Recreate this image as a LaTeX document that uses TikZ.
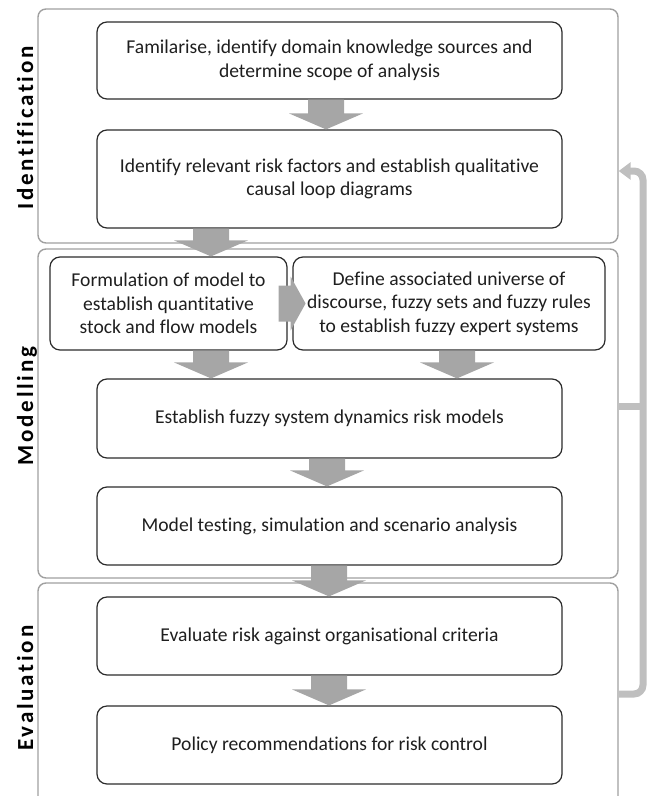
\documentclass[tikz,border=0pt]{standalone}
\usepackage{fontspec}
\setmainfont{Carlito}[Ligatures=NoCommon]
\newfontfamily\phasefont[LetterSpace=12,Ligatures=NoCommon]{Carlito}
\usetikzlibrary{calc,arrows.meta}
\definecolor{boxline}{HTML}{2B2B2B}
\definecolor{panelline}{HTML}{A0A0A0}
\definecolor{blockfill}{HTML}{A6A6A6}
\definecolor{fbline}{HTML}{BFBFBF}
\definecolor{txt}{HTML}{1E1E1E}

% downward block arrow: #1 = x of its axis, #2 = upper node, #3 = lower node
\newcommand\downblock[3]{%
  \fill[block] let \p1=(#2.south), \p2=(#3.north), \p3=(#1,0) in
    (\x3-18pt,\y1) -- (\x3+18pt,\y1) -- (\x3+18pt,\y2+16pt) -- (\x3+37pt,\y2+16pt)
    -- (\x3,\y2) -- (\x3-37pt,\y2+16pt) -- (\x3-18pt,\y2+16pt) -- cycle;}

\begin{document}
\begin{tikzpicture}[x=1pt,y=-1pt,
  panel/.style={draw=panelline, line width=1.4pt, rounded corners=8pt, inner sep=0pt, minimum width=580pt},
  stepbox/.style={draw=boxline, line width=1.2pt, rounded corners=10pt, inner sep=0pt,
    align=center, text=txt, font=\fontsize{19.6}{23.5}\selectfont},
  phase/.style={rotate=90, anchor=base, inner sep=0pt, text=black,
    font=\phasefont\bfseries\fontsize{23}{27}\selectfont},
  block/.style={fill=blockfill, draw=none},
  feedback/.style={draw=fbline, line width=7pt, rounded corners=9pt}
]
\useasboundingbox (0,0) rectangle (654,796);
\clip (0,0) rectangle (654,796);

% phase panels
\node[panel, minimum height=234pt] (idp)   at (328,126)   {};
\node[panel, minimum height=329pt] (modp)  at (328,413.5) {};
\node[panel, minimum height=227pt] (evalp) at (328,696.5) {};

% feedback bracket on the right
\coordinate (fbtop) at (643,171);
\coordinate (fbmid) at (643,406);
\coordinate (fbbot) at (643,694);
\draw[feedback] (modp.east |- fbmid) -- (fbmid);
\draw[feedback, -{Triangle[length=12pt,width=17pt]}]
  (evalp.east |- fbbot) -- (fbbot) -- (fbtop) -- (idp.east |- fbtop);

% process steps
\node[stepbox, minimum width=465pt, minimum height=77pt] (b1) at (329.5,60.5)
  {Familarise, identify domain knowledge sources and\\determine scope of analysis};
\node[stepbox, minimum width=465pt, minimum height=98pt] (b2) at (329.5,179)
  {Identify relevant risk factors and establish qualitative\\causal loop diagrams};
\node[stepbox, minimum width=237pt, minimum height=93pt] (b3) at (168.5,303.5)
  {Formulation of model to\\establish quantitative\\stock and flow models};
\node[stepbox, minimum width=312pt, minimum height=93pt] (b4) at (449,303.5)
  {Define associated universe of\\discourse, fuzzy sets and fuzzy rules\\to establish fuzzy expert systems};
\node[stepbox, minimum width=465pt, minimum height=79pt] (b5) at (329.5,418.5)
  {Establish fuzzy system dynamics risk models};
\node[stepbox, minimum width=465pt, minimum height=78pt] (b6) at (329.5,526)
  {Model testing, simulation and scenario analysis};
\node[stepbox, minimum width=465pt, minimum height=78pt] (b7) at (329.5,636)
  {Evaluate risk against organisational criteria};
\node[stepbox, minimum width=465pt, minimum height=78pt] (b8) at (329.5,745)
  {Policy recommendations for risk control};

% block arrows between the steps
\downblock{326}{b1}{b2}
\downblock{211}{b2}{b3}
\downblock{211}{b3}{b5}
\downblock{457}{b4}{b5}
\downblock{327}{b5}{b6}
\downblock{329}{b6}{b7}
\downblock{329}{b7}{b8}
\fill[block] let \p1=(b3.east) in
  (\x1-9pt,\y1+18pt) -- (\x1+3pt,\y1+18pt) -- (\x1+3pt,\y1+27pt) -- (\x1+18pt,\y1)
  -- (\x1+3pt,\y1-27pt) -- (\x1+3pt,\y1-18pt) -- (\x1-9pt,\y1-18pt) -- cycle;

% phase labels
\node[phase] (lid)   at (33,128) {Identification};
\node[phase] (lmod)  at (33,406) {Modelling};
\node[phase] (leval) at (33,688) {Evaluation};
\end{tikzpicture}
\end{document}
